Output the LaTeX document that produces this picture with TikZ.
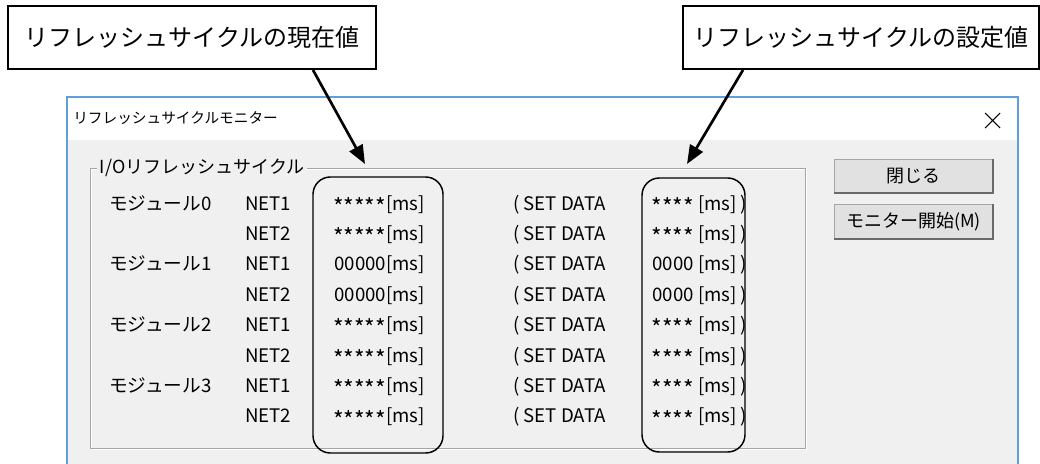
\documentclass[tikz,border=0pt]{standalone}
\usepackage{fontspec}
\setmainfont{Noto Sans CJK JP}
\usetikzlibrary{arrows.meta,positioning}
\definecolor{winblue} {RGB}{95,160,220}
\definecolor{wingray} {RGB}{240,240,240}
\definecolor{etchgray}{RGB}{165,165,165}
\definecolor{btngray} {RGB}{225,225,225}
\definecolor{btnedge} {RGB}{105,105,105}
\newcommand\stv[1]{\raisebox{-4pt}{\fontsize{17pt}{17pt}\selectfont #1}}
\tikzset{
  callbox/.style={draw, line width=1.5pt, fill=white, inner sep=0pt,
                  minimum height=47.25pt, font=\fontsize{18pt}{20pt}\selectfont},
  callarr/.style={-{Triangle[length=14pt,width=11pt]}, line width=2pt},
  uitxt/.style  ={inner sep=0pt, font=\fontsize{14pt}{16pt}\selectfont},
  ring/.style   ={draw, line width=1.1pt, rounded corners=13pt, inner sep=0pt},
  btn/.style    ={draw=etchgray, fill=btngray, minimum width=119.25pt,
                  inner sep=0pt, font=\fontsize{13.5pt}{15pt}\selectfont},
  btnshade/.style={draw=btnedge, line width=1.5pt},
}
\begin{document}
\begin{tikzpicture}[x=0.75pt, y=-0.75pt]
  \useasboundingbox (0,0) rectangle (1040,464);
  \fill[white] (0,0) rectangle (1040,464);

  % dialog window
  \fill[white] (67,97) rectangle (1018,140);
  \fill[wingray] (67,140) rectangle (1018,464);
  \draw[winblue, line width=1.2pt] (67,464) -- (67,97) -- (1018,97) -- (1018,464);
  \node[uitxt, anchor=west, font=\fontsize{11pt}{13pt}\selectfont] (ttl)
        at (73,118) {リフレッシュサイクルモニター};
  \draw[line width=0.8pt] (985,113) -- (1000,128) (985,128) -- (1000,113);

  % group frame
  \draw[white] (91,169) rectangle (806,449);
  \draw[etchgray] (90,168) rectangle (805,448);
  \node[uitxt, fill=wingray, inner xsep=2pt, anchor=west,
        font=\fontsize{13.5pt}{15pt}\selectfont] (grp)
        at (97,168) {I/Oリフレッシュサイクル};

  \foreach \row/\curv/\setv in {0/{\stv{*****}}/{\stv{****}},
                                1/{\stv{*****}}/{\stv{****}},
                                2/00000/0000, 3/00000/0000,
                                4/{\stv{*****}}/{\stv{****}},
                                5/{\stv{*****}}/{\stv{****}},
                                6/{\stv{*****}}/{\stv{****}},
                                7/{\stv{*****}}/{\stv{****}}}{
    \pgfmathsetmacro\ry{210+30.4*\row}
    \pgfmathtruncatemacro\nn{mod(\row,2)+1}
    \pgfmathtruncatemacro\mm{\row/2}
    \ifodd\row\else
      \node[uitxt, anchor=base west] (mod\mm) at (109,\ry) {モジュール\mm};
    \fi
    \node[uitxt, anchor=base west] (net\row) at (245,\ry) {NET\nn};
    \node[uitxt, anchor=base east] (cur\row) at (425,\ry) {\curv[ms]};
    \node[uitxt, anchor=base west] (sd\row)  at (513,\ry) {( SET DATA};
    \node[uitxt, anchor=base east] (set\row) at (737,\ry) {\setv\ [ms]};
    \node[uitxt, anchor=base west] (cl\row)  at (740,\ry) {)};
  }

  % buttons
  \node[btn, minimum height=25.5pt] (close) at (913.5,176) {閉じる};
  \draw[btnshade] (close.south west) -- (close.south east) -- (close.north east);
  \node[btn, minimum height=26.25pt] (mon) at (913.5,221.5) {モニター開始(M)};
  \draw[btnshade] (mon.south west) -- (mon.south east) -- (mon.north east);

  % highlighted columns
  \node[ring, minimum width=97.5pt,  minimum height=207pt]   (curbox) at (378,315) {};
  \node[ring, minimum width=77.25pt, minimum height=205.5pt] (setbox) at (693.5,315) {};

  % callouts
  \node[callbox, minimum width=276pt] (curlbl) at (192,37.5) {リフレッシュサイクルの現在値};
  \node[callbox, minimum width=267pt] (setlbl) at (861,37.5) {リフレッシュサイクルの設定値};
  \coordinate (curtip) at (365,164);
  \coordinate (settip) at (687,164);
  \draw[callarr] ([xshift=90.75pt]curlbl.south) -- (curtip);
  \draw[callarr] ([xshift=-88.5pt]setlbl.south) -- (settip);
\end{tikzpicture}
\end{document}
